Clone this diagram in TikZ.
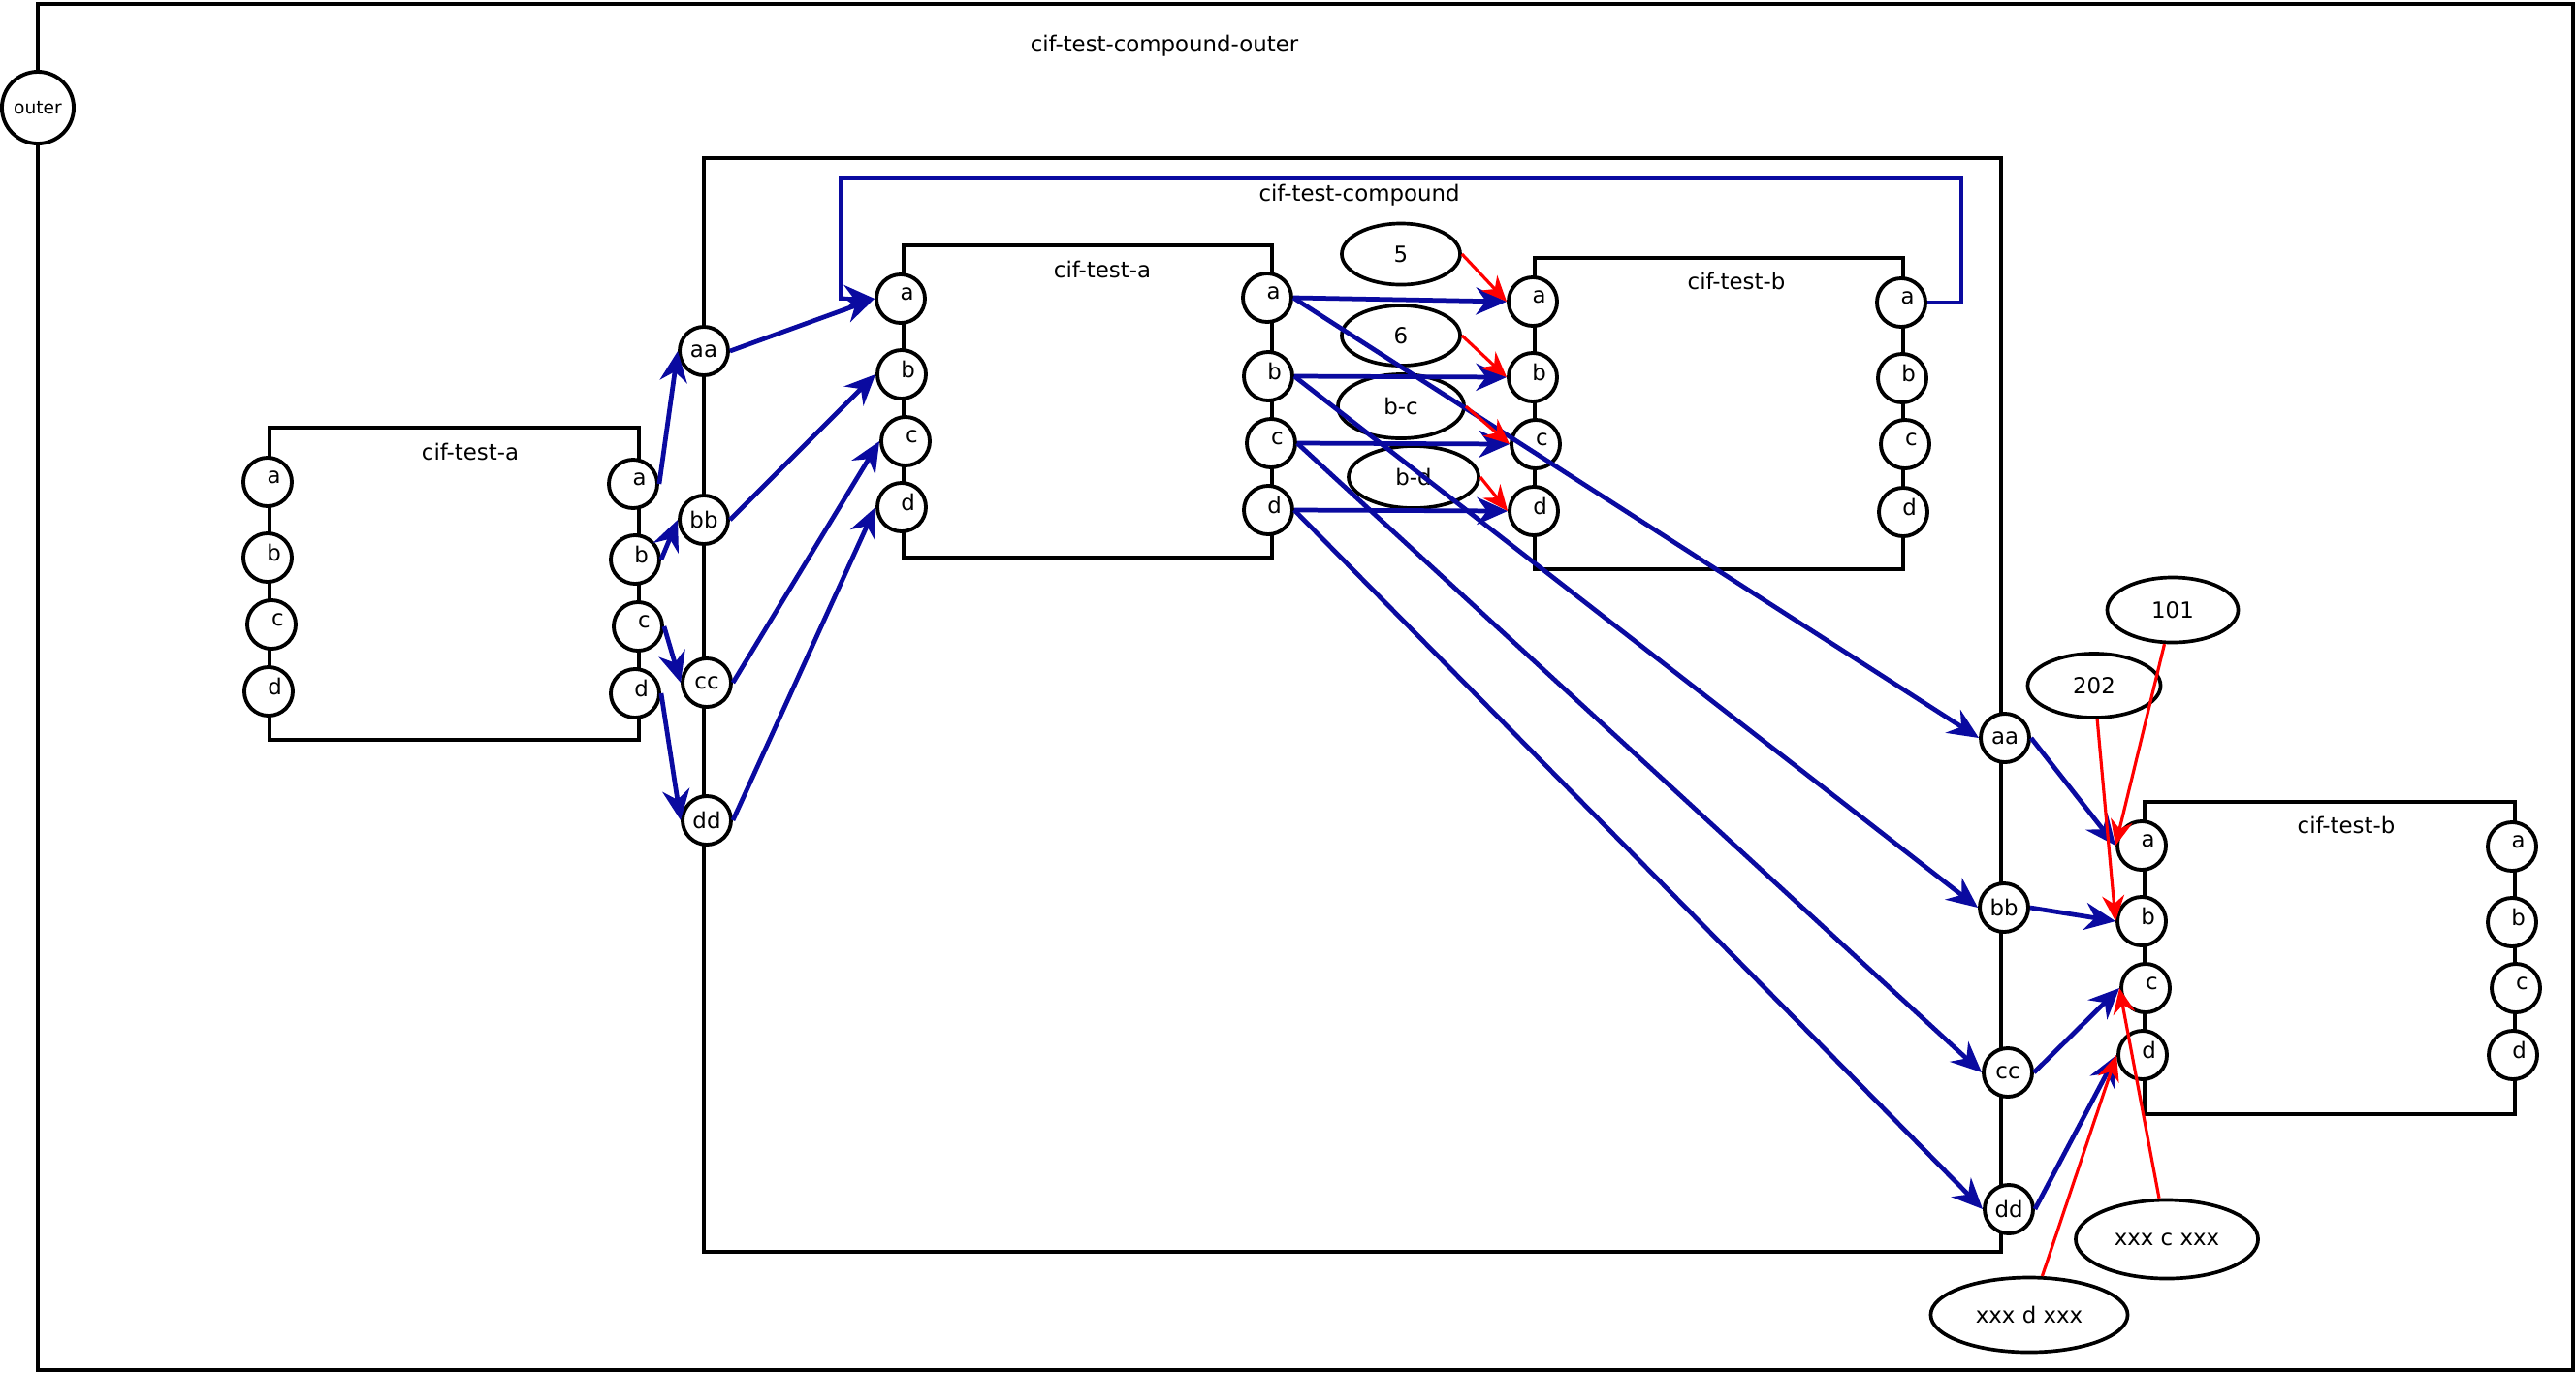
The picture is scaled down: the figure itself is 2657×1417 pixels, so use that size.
\documentclass[tikz,border=0pt]{standalone}
\usepackage{fontspec}
\setmainfont{DejaVu Sans}
\usetikzlibrary{arrows.meta,shapes.geometric}
\definecolor{flowblue}{RGB}{10,10,160}
\begin{document}
\begin{tikzpicture}[x=0.01cm,y=-0.01cm,
  font=\fontsize{6.5}{7.5}\selectfont,
  box/.style={draw,line width=0.95pt},
  port/.style={circle,draw,fill=white,line width=1.1pt,minimum size=0.5cm,inner sep=0pt},
  cport/.style={port,label={[xshift=0.065cm,yshift=0.05cm]center:#1}},
  tag/.style={ellipse,draw,fill=white,line width=1.05pt,inner sep=0pt},
  ttl/.style={inner sep=0pt},
  flow/.style={draw=flowblue,line width=1.35pt,-{Stealth[length=9pt,width=8pt]}},
  rflow/.style={draw=red,line width=0.9pt,-{Stealth[length=7.5pt,width=6.5pt]}},
]
\useasboundingbox (0,0) rectangle (2657,1417);

% outer compound
\draw[box] (39,4) rectangle (2654,1413);
\node[ttl] (outerttl) at (1201,47) {cif-test-compound-outer};
\node[port,minimum size=0.74cm,font=\fontsize{5.3}{6}\selectfont] (outer) at (39,111) {outer};

% inner compound
\draw[box] (726,163) rectangle (2064,1291);
\node[ttl] (compttl) at (1402,201) {cif-test-compound};

% left cif-test-a
\draw[box] (278,441) rectangle (659,763);
\node[ttl] (lattl) at (485,466) {cif-test-a};
\node[cport=a] (lala) at (276,497) {};
\node[cport=b] (lalb) at (276,575) {};
\node[cport=c] (lalc) at (280,644) {};
\node[cport=d] (lald) at (277,713) {};
\node[cport=a] (lara) at (653,499) {};
\node[cport=b] (larb) at (655,577) {};
\node[cport=c] (larc) at (658,646) {};
\node[cport=d] (lard) at (655,715) {};

% compound ports
\node[port] (caa) at (726,362) {aa};
\node[port] (cbb) at (726,536) {bb};
\node[port] (ccc) at (729,704) {cc};
\node[port] (cdd) at (729,846) {dd};
\node[port] (craa) at (2068,761) {aa};
\node[port] (crbb) at (2067,936) {bb};
\node[port] (crcc) at (2071,1106) {cc};
\node[port] (crdd) at (2072,1247) {dd};

% inner cif-test-a
\draw[box] (932,253) rectangle (1312,575);
\node[ttl] (iattl) at (1137,278) {cif-test-a};
\node[cport=a] (iala) at (929,308) {};
\node[cport=b] (ialb) at (930,386) {};
\node[cport=c] (ialc) at (934,455) {};
\node[cport=d] (iald) at (930,523) {};
\node[cport=a] (iara) at (1307,307) {};
\node[cport=b] (iarb) at (1308,388) {};
\node[cport=c] (iarc) at (1311,457) {};
\node[cport=d] (iard) at (1308,526) {};

% inner cif-test-b
\draw[box] (1583,266) rectangle (1963,587);
\node[ttl] (ibttl) at (1791,290) {cif-test-b};
\node[cport=a] (ibla) at (1581,311) {};
\node[cport=b] (iblb) at (1581,389) {};
\node[cport=c] (iblc) at (1584,458) {};
\node[cport=d] (ibld) at (1582,527) {};
\node[cport=a] (ibra) at (1961,312) {};
\node[cport=b] (ibrb) at (1962,390) {};
\node[cport=c] (ibrc) at (1965,458) {};
\node[cport=d] (ibrd) at (1963,528) {};

% right cif-test-b
\draw[box] (2212,827) rectangle (2594,1149);
\node[ttl] (rbttl) at (2420,851) {cif-test-b};
\node[cport=a] (rbla) at (2209,872) {};
\node[cport=b] (rblb) at (2209,950) {};
\node[cport=c] (rblc) at (2213,1019) {};
\node[cport=d] (rbld) at (2210,1088) {};
\node[cport=a] (rbra) at (2591,873) {};
\node[cport=b] (rbrb) at (2591,951) {};
\node[cport=c] (rbrc) at (2595,1019) {};
\node[cport=d] (rbrd) at (2592,1088) {};

% value tags
\node[tag,minimum width=1.22cm,minimum height=0.63cm] (v5) at (1445,262) {5};
\node[tag,minimum width=1.22cm,minimum height=0.62cm] (v6) at (1445,346) {6};
\node[tag,minimum width=1.30cm,minimum height=0.66cm] (vbc) at (1445,419) {b-c};
\node[tag,minimum width=1.34cm,minimum height=0.64cm] (vbd) at (1458,492) {b-d};
\node[tag,minimum width=1.35cm,minimum height=0.67cm] (v101) at (2241,629) {101};
\node[tag,minimum width=1.37cm,minimum height=0.66cm] (v202) at (2160,707) {202};
\node[tag,minimum width=1.88cm,minimum height=0.81cm] (vxc) at (2235,1278) {xxx c xxx};
\node[tag,minimum width=2.03cm,minimum height=0.77cm] (vxd) at (2093,1356) {xxx d xxx};

% data flows
\draw[flow] (lara.east) -- (caa.west);
\draw[flow] (larb.east) -- (cbb.west);
\draw[flow] (larc.east) -- (ccc.west);
\draw[flow] (lard.east) -- (cdd.west);
\draw[flow] (caa.east) -- (iala.west);
\draw[flow] (cbb.east) -- (ialb.west);
\draw[flow] (ccc.east) -- (ialc.west);
\draw[flow] (cdd.east) -- (iald.west);
\draw[flow] (iara.east) -- (ibla.west);
\draw[flow] (iarb.east) -- (iblb.west);
\draw[flow] (iarc.east) -- (iblc.west);
\draw[flow] (iard.east) -- (ibld.west);
\draw[flow] (iara.east) -- (craa.west);
\draw[flow] (iarb.east) -- (crbb.west);
\draw[flow] (iarc.east) -- (crcc.west);
\draw[flow] (iard.east) -- (crdd.west);
\draw[flow] (craa.east) -- (rbla.west);
\draw[flow] (crbb.east) -- (rblb.west);
\draw[flow] (crcc.east) -- (rblc.west);
\draw[flow] (crdd.east) -- (rbld.west);
\coordinate (loopne) at (2023,184);
\coordinate (loopnw) at (867,184);
\draw[flow] (ibra.east) -| (loopne) -- (loopnw) |- (iala.west);

% value assignments
\draw[rflow] (v5.east) -- (ibla.west);
\draw[rflow] (v6.east) -- (iblb.west);
\draw[rflow] (vbc.east) -- (iblc.west);
\draw[rflow] (vbd.east) -- (ibld.west);
\draw[rflow] (v101) -- (rbla.west);
\draw[rflow] (v202) -- (rblb.west);
\draw[rflow] (vxc) -- (rblc.west);
\draw[rflow] (vxd) -- (rbld.west);
\end{tikzpicture}
\end{document}
